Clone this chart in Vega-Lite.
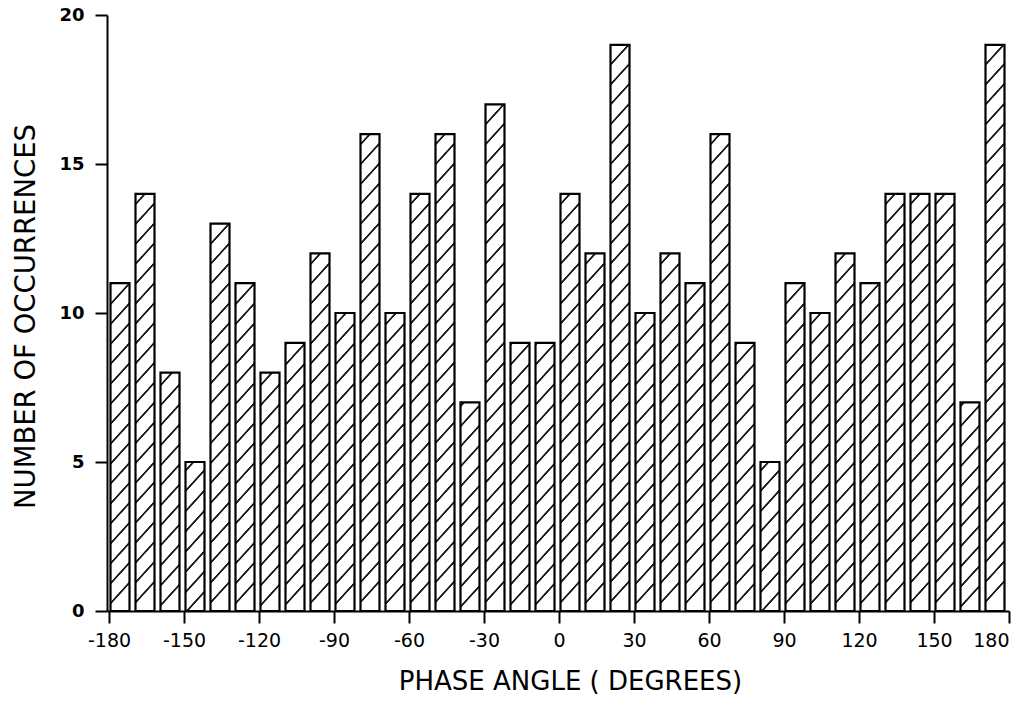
{
  "$schema": "https://vega.github.io/schema/vega-lite/v6.json",
  "autosize": {"type": "none"},
  "padding": {"left": 107, "top": 15, "right": 18, "bottom": 90},
  "width": 902,
  "height": 596,
  "background": "white",
  "config": {
    "view": {"stroke": null},
    "axis": {
      "grid": false,
      "domainColor": "black",
      "domainWidth": 2,
      "tickColor": "black",
      "tickWidth": 2,
      "tickSize": 12,
      "labelColor": "black",
      "titleColor": "black",
      "labelFont": "DejaVu Sans",
      "titleFont": "DejaVu Sans",
      "titleFontWeight": "normal"
    }
  },
  "params": [
    {
      "name": "hatch",
      "value": [
        {"offset": 0.0137, "color": "#ffffff"}, {"offset": 0.0152, "color": "#1a1a1a"}, {"offset": 0.0182, "color": "#1a1a1a"}, {"offset": 0.0197, "color": "#ffffff"},
        {"offset": 0.047, "color": "#ffffff"}, {"offset": 0.0485, "color": "#1a1a1a"}, {"offset": 0.0515, "color": "#1a1a1a"}, {"offset": 0.053, "color": "#ffffff"},
        {"offset": 0.0803, "color": "#ffffff"}, {"offset": 0.0818, "color": "#1a1a1a"}, {"offset": 0.0848, "color": "#1a1a1a"}, {"offset": 0.0863, "color": "#ffffff"},
        {"offset": 0.1137, "color": "#ffffff"}, {"offset": 0.1152, "color": "#1a1a1a"}, {"offset": 0.1182, "color": "#1a1a1a"}, {"offset": 0.1197, "color": "#ffffff"},
        {"offset": 0.147, "color": "#ffffff"}, {"offset": 0.1485, "color": "#1a1a1a"}, {"offset": 0.1515, "color": "#1a1a1a"}, {"offset": 0.153, "color": "#ffffff"},
        {"offset": 0.1803, "color": "#ffffff"}, {"offset": 0.1818, "color": "#1a1a1a"}, {"offset": 0.1848, "color": "#1a1a1a"}, {"offset": 0.1863, "color": "#ffffff"},
        {"offset": 0.2137, "color": "#ffffff"}, {"offset": 0.2152, "color": "#1a1a1a"}, {"offset": 0.2182, "color": "#1a1a1a"}, {"offset": 0.2197, "color": "#ffffff"},
        {"offset": 0.247, "color": "#ffffff"}, {"offset": 0.2485, "color": "#1a1a1a"}, {"offset": 0.2515, "color": "#1a1a1a"}, {"offset": 0.253, "color": "#ffffff"},
        {"offset": 0.2803, "color": "#ffffff"}, {"offset": 0.2818, "color": "#1a1a1a"}, {"offset": 0.2848, "color": "#1a1a1a"}, {"offset": 0.2863, "color": "#ffffff"},
        {"offset": 0.3137, "color": "#ffffff"}, {"offset": 0.3152, "color": "#1a1a1a"}, {"offset": 0.3182, "color": "#1a1a1a"}, {"offset": 0.3197, "color": "#ffffff"},
        {"offset": 0.347, "color": "#ffffff"}, {"offset": 0.3485, "color": "#1a1a1a"}, {"offset": 0.3515, "color": "#1a1a1a"}, {"offset": 0.353, "color": "#ffffff"},
        {"offset": 0.3803, "color": "#ffffff"}, {"offset": 0.3818, "color": "#1a1a1a"}, {"offset": 0.3848, "color": "#1a1a1a"}, {"offset": 0.3863, "color": "#ffffff"},
        {"offset": 0.4137, "color": "#ffffff"}, {"offset": 0.4152, "color": "#1a1a1a"}, {"offset": 0.4182, "color": "#1a1a1a"}, {"offset": 0.4197, "color": "#ffffff"},
        {"offset": 0.447, "color": "#ffffff"}, {"offset": 0.4485, "color": "#1a1a1a"}, {"offset": 0.4515, "color": "#1a1a1a"}, {"offset": 0.453, "color": "#ffffff"},
        {"offset": 0.4803, "color": "#ffffff"}, {"offset": 0.4818, "color": "#1a1a1a"}, {"offset": 0.4848, "color": "#1a1a1a"}, {"offset": 0.4863, "color": "#ffffff"},
        {"offset": 0.5137, "color": "#ffffff"}, {"offset": 0.5152, "color": "#1a1a1a"}, {"offset": 0.5182, "color": "#1a1a1a"}, {"offset": 0.5197, "color": "#ffffff"},
        {"offset": 0.547, "color": "#ffffff"}, {"offset": 0.5485, "color": "#1a1a1a"}, {"offset": 0.5515, "color": "#1a1a1a"}, {"offset": 0.553, "color": "#ffffff"},
        {"offset": 0.5803, "color": "#ffffff"}, {"offset": 0.5818, "color": "#1a1a1a"}, {"offset": 0.5848, "color": "#1a1a1a"}, {"offset": 0.5863, "color": "#ffffff"},
        {"offset": 0.6137, "color": "#ffffff"}, {"offset": 0.6152, "color": "#1a1a1a"}, {"offset": 0.6182, "color": "#1a1a1a"}, {"offset": 0.6197, "color": "#ffffff"},
        {"offset": 0.647, "color": "#ffffff"}, {"offset": 0.6485, "color": "#1a1a1a"}, {"offset": 0.6515, "color": "#1a1a1a"}, {"offset": 0.653, "color": "#ffffff"},
        {"offset": 0.6803, "color": "#ffffff"}, {"offset": 0.6818, "color": "#1a1a1a"}, {"offset": 0.6848, "color": "#1a1a1a"}, {"offset": 0.6863, "color": "#ffffff"},
        {"offset": 0.7137, "color": "#ffffff"}, {"offset": 0.7152, "color": "#1a1a1a"}, {"offset": 0.7182, "color": "#1a1a1a"}, {"offset": 0.7197, "color": "#ffffff"},
        {"offset": 0.747, "color": "#ffffff"}, {"offset": 0.7485, "color": "#1a1a1a"}, {"offset": 0.7515, "color": "#1a1a1a"}, {"offset": 0.753, "color": "#ffffff"},
        {"offset": 0.7803, "color": "#ffffff"}, {"offset": 0.7818, "color": "#1a1a1a"}, {"offset": 0.7848, "color": "#1a1a1a"}, {"offset": 0.7863, "color": "#ffffff"},
        {"offset": 0.8137, "color": "#ffffff"}, {"offset": 0.8152, "color": "#1a1a1a"}, {"offset": 0.8182, "color": "#1a1a1a"}, {"offset": 0.8197, "color": "#ffffff"},
        {"offset": 0.847, "color": "#ffffff"}, {"offset": 0.8485, "color": "#1a1a1a"}, {"offset": 0.8515, "color": "#1a1a1a"}, {"offset": 0.853, "color": "#ffffff"},
        {"offset": 0.8803, "color": "#ffffff"}, {"offset": 0.8818, "color": "#1a1a1a"}, {"offset": 0.8848, "color": "#1a1a1a"}, {"offset": 0.8863, "color": "#ffffff"},
        {"offset": 0.9137, "color": "#ffffff"}, {"offset": 0.9152, "color": "#1a1a1a"}, {"offset": 0.9182, "color": "#1a1a1a"}, {"offset": 0.9197, "color": "#ffffff"},
        {"offset": 0.947, "color": "#ffffff"}, {"offset": 0.9485, "color": "#1a1a1a"}, {"offset": 0.9515, "color": "#1a1a1a"}, {"offset": 0.953, "color": "#ffffff"},
        {"offset": 0.9803, "color": "#ffffff"}, {"offset": 0.9818, "color": "#1a1a1a"}, {"offset": 0.9848, "color": "#1a1a1a"}, {"offset": 0.9863, "color": "#ffffff"}
      ]
    }
  ],
  "data": {
    "values": [
      {"start": -180, "end": -170, "count": 11},
      {"start": -170, "end": -160, "count": 14},
      {"start": -160, "end": -150, "count": 8},
      {"start": -150, "end": -140, "count": 5},
      {"start": -140, "end": -130, "count": 13},
      {"start": -130, "end": -120, "count": 11},
      {"start": -120, "end": -110, "count": 8},
      {"start": -110, "end": -100, "count": 9},
      {"start": -100, "end": -90, "count": 12},
      {"start": -90, "end": -80, "count": 10},
      {"start": -80, "end": -70, "count": 16},
      {"start": -70, "end": -60, "count": 10},
      {"start": -60, "end": -50, "count": 14},
      {"start": -50, "end": -40, "count": 16},
      {"start": -40, "end": -30, "count": 7},
      {"start": -30, "end": -20, "count": 17},
      {"start": -20, "end": -10, "count": 9},
      {"start": -10, "end": 0, "count": 9},
      {"start": 0, "end": 10, "count": 14},
      {"start": 10, "end": 20, "count": 12},
      {"start": 20, "end": 30, "count": 19},
      {"start": 30, "end": 40, "count": 10},
      {"start": 40, "end": 50, "count": 12},
      {"start": 50, "end": 60, "count": 11},
      {"start": 60, "end": 70, "count": 16},
      {"start": 70, "end": 80, "count": 9},
      {"start": 80, "end": 90, "count": 5},
      {"start": 90, "end": 100, "count": 11},
      {"start": 100, "end": 110, "count": 10},
      {"start": 110, "end": 120, "count": 12},
      {"start": 120, "end": 130, "count": 11},
      {"start": 130, "end": 140, "count": 14},
      {"start": 140, "end": 150, "count": 14},
      {"start": 150, "end": 160, "count": 14},
      {"start": 160, "end": 170, "count": 7},
      {"start": 170, "end": 180, "count": 19}
    ]
  },
  "mark": {
    "type": "rect",
    "stroke": "black",
    "strokeWidth": 2.2,
    "xOffset": 1.5,
    "x2Offset": -4.5,
    "fill": {"expr": "{gradient: 'linear', x1: 0, y1: 1 - 20 / datum.count, x2: 14 / (datum.count * datum.count), y2: 1, stops: hatch}"}
  },
  "encoding": {
    "x": {
      "field": "start",
      "type": "quantitative",
      "scale": {"domain": [-180.8, 180], "nice": false, "zero": false},
      "axis": {
        "values": [-180, -150, -120, -90, -60, -30, 0, 30, 60, 90, 120, 150, 180],
        "labelExpr": "'' + datum.value",
        "labelFontSize": 19,
        "labelPadding": 8,
        "title": "PHASE ANGLE ( DEGREES)",
        "titleFontSize": 26,
        "titlePadding": 18,
        "titleX": 463
      }
    },
    "x2": {"field": "end"},
    "y": {
      "field": "count",
      "type": "quantitative",
      "scale": {"domain": [0, 20], "nice": false},
      "axis": {
        "values": [0, 5, 10, 15, 20],
        "labelFontSize": 18,
        "labelFontWeight": "bold",
        "labelPadding": 11,
        "title": "NUMBER OF OCCURRENCES",
        "titleFontSize": 27.5,
        "titlePadding": 18,
        "titleY": 301
      }
    },
    "y2": {"datum": 0}
  }
}
